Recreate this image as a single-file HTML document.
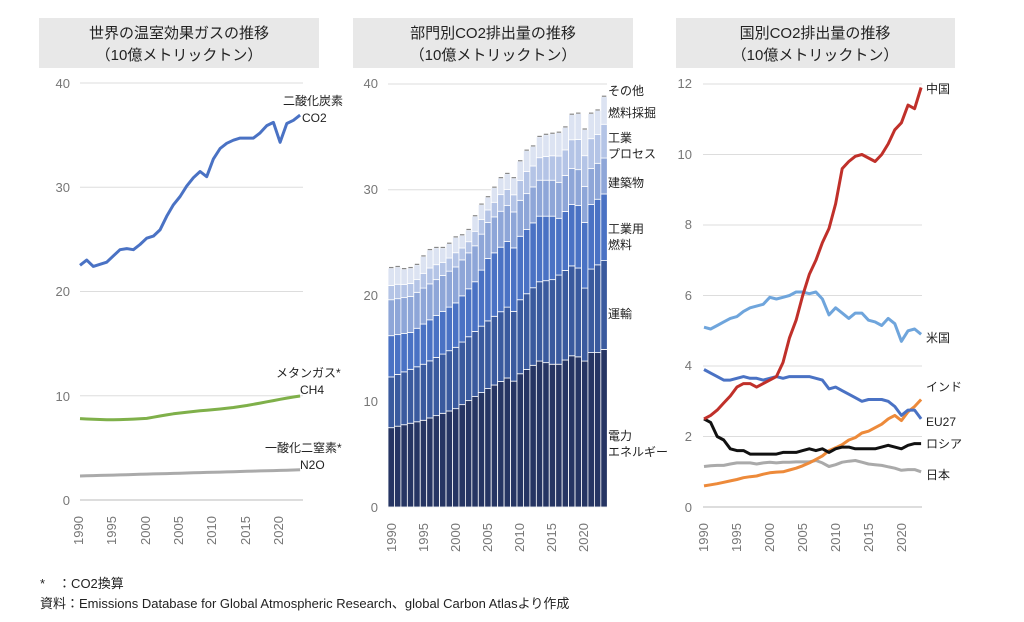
<!DOCTYPE html>
<html><head><meta charset="utf-8"><style>
body{margin:0;background:#fff;}
svg{display:block;font-family:"Liberation Sans","Noto Sans CJK JP",sans-serif;}
.t{font-size:15px;fill:#222;text-anchor:middle}
.ax{font-size:13px;fill:#777}
.lb{font-size:12px;fill:#222}
.ft{font-size:13px;fill:#222}
</style></head><body>
<svg id="s" width="1024" height="622" xmlns="http://www.w3.org/2000/svg">
<rect x="39" y="18" width="280" height="50" fill="#e8e8e8"/>
<rect x="353" y="18" width="280" height="50" fill="#e8e8e8"/>
<rect x="676" y="18" width="279" height="50" fill="#e8e8e8"/>
<text class="t" x="179" y="38">世界の温室効果ガスの推移</text>
<text class="t" x="179" y="60">（10億メトリックトン）</text>
<text class="t" x="493" y="38">部門別CO2排出量の推移</text>
<text class="t" x="493" y="60">（10億メトリックトン）</text>
<text class="t" x="815" y="38">国別CO2排出量の推移</text>
<text class="t" x="815" y="60">（10億メトリックトン）</text>
<g id="g"></g>
<!-- axis labels left -->
<text class="ax" x="70" y="88" text-anchor="end">40</text>
<text class="ax" x="70" y="192" text-anchor="end">30</text>
<text class="ax" x="70" y="296" text-anchor="end">20</text>
<text class="ax" x="70" y="401" text-anchor="end">10</text>
<text class="ax" x="70" y="505" text-anchor="end">0</text>
<text class="ax" x="378" y="88" text-anchor="end">40</text>
<text class="ax" x="378" y="194" text-anchor="end">30</text>
<text class="ax" x="378" y="300" text-anchor="end">20</text>
<text class="ax" x="378" y="406" text-anchor="end">10</text>
<text class="ax" x="378" y="512" text-anchor="end">0</text>
<text class="ax" x="692" y="88" text-anchor="end">12</text>
<text class="ax" x="692" y="159" text-anchor="end">10</text>
<text class="ax" x="692" y="229" text-anchor="end">8</text>
<text class="ax" x="692" y="300" text-anchor="end">6</text>
<text class="ax" x="692" y="370" text-anchor="end">4</text>
<text class="ax" x="692" y="441" text-anchor="end">2</text>
<text class="ax" x="692" y="512" text-anchor="end">0</text>
<g class="ax">
<text transform="translate(83,545) rotate(-90)">1990</text>
<text transform="translate(116,545) rotate(-90)">1995</text>
<text transform="translate(150,545) rotate(-90)">2000</text>
<text transform="translate(183,545) rotate(-90)">2005</text>
<text transform="translate(216,545) rotate(-90)">2010</text>
<text transform="translate(250,545) rotate(-90)">2015</text>
<text transform="translate(283,545) rotate(-90)">2020</text>
<text transform="translate(396,552) rotate(-90)">1990</text>
<text transform="translate(428,552) rotate(-90)">1995</text>
<text transform="translate(460,552) rotate(-90)">2000</text>
<text transform="translate(492,552) rotate(-90)">2005</text>
<text transform="translate(524,552) rotate(-90)">2010</text>
<text transform="translate(556,552) rotate(-90)">2015</text>
<text transform="translate(588,552) rotate(-90)">2020</text>
<text transform="translate(708,552) rotate(-90)">1990</text>
<text transform="translate(741,552) rotate(-90)">1995</text>
<text transform="translate(774,552) rotate(-90)">2000</text>
<text transform="translate(807,552) rotate(-90)">2005</text>
<text transform="translate(840,552) rotate(-90)">2010</text>
<text transform="translate(873,552) rotate(-90)">2015</text>
<text transform="translate(906,552) rotate(-90)">2020</text>
</g>
<g class="lb">
<text x="283" y="105">二酸化炭素</text>
<text x="302" y="122">CO2</text>
<text x="276" y="377">メタンガス*</text>
<text x="300" y="394">CH4</text>
<text x="265" y="452">一酸化二窒素*</text>
<text x="300" y="469">N2O</text>
<text x="608" y="95">その他</text>
<text x="608" y="117">燃料採掘</text>
<text x="608" y="142">工業</text>
<text x="608" y="158">プロセス</text>
<text x="608" y="187">建築物</text>
<text x="608" y="233">工業用</text>
<text x="608" y="249">燃料</text>
<text x="608" y="318">運輸</text>
<text x="608" y="440">電力</text>
<text x="608" y="456">エネルギー</text>
<text x="926" y="93">中国</text>
<text x="926" y="342">米国</text>
<text x="926" y="391">インド</text>
<text x="926" y="426">EU27</text>
<text x="926" y="448">ロシア</text>
<text x="926" y="479">日本</text>
</g>
<text class="ft" x="40" y="588">*　：CO2換算</text>
<text class="ft" x="40" y="608">資料：Emissions Database for Global Atmospheric Research、global Carbon Atlasより作成</text>
</svg>
<script>
var g=document.getElementById('g'),NS='http://www.w3.org/2000/svg';
function el(t,a){var e=document.createElementNS(NS,t);for(var k in a)e.setAttribute(k,a[k]);g.appendChild(e);return e;}
// grids
[[80,303,83,500,4],[388,607,84,507,4],[703,922,84,507,6]].forEach(function(c){for(var i=0;i<=c[4];i++){var y=c[2]+(c[3]-c[2])*i/c[4];el('line',{x1:c[0],x2:c[1],y1:y,y2:y,stroke:i==c[4]?'#bbb':'#ddd','stroke-width':1});}});
function line(xs,ys,dx,y0,sc,vals,col){var p=vals.map(function(v,i){return (xs+i*dx).toFixed(1)+','+(y0-v*sc).toFixed(1)}).join(' ');el('polyline',{points:p,fill:'none',stroke:col,'stroke-width':3,'stroke-linejoin':'round'});}
var co2=[22.5,23,22.4,22.6,22.8,23.4,24,24.1,24,24.5,25.1,25.3,25.9,27.2,28.3,29.1,30.1,30.9,31.5,31,32.7,33.7,34.2,34.5,34.7,34.7,34.7,35.2,35.9,36.2,34.3,36.1,36.4,36.9];
var ch4=[],n2o=[];for(var i=0;i<34;i++){ch4.push(7.8-0.1*Math.sin(i/3)+ (i>10?(i-10)*0.09:0));n2o.push(2.3+i*0.018);}
line(80,0,6.67,500,10.43,co2,'#4a72c4');line(80,0,6.67,500,10.43,ch4,'#7fb04a');line(80,0,6.67,500,10.43,n2o,'#aaa');
// bars
function interp(k,y){var ks=Object.keys(k).map(Number).sort(function(a,b){return a-b});for(var i=0;i<ks.length-1;i++){if(y>=ks[i]&&y<=ks[i+1]){var t=(y-ks[i])/(ks[i+1]-ks[i]);return k[ks[i]]+(k[ks[i+1]]-k[ks[i]])*t;}}return k[ks[ks.length-1]];}
var E={1990:7.5,1995:8.2,2000:9.3,2005:11.2,2008:12.2,2009:11.9,2010:12.6,2013:13.8,2015:13.5,2016:13.5,2018:14.3,2019:14.2,2020:13.8,2021:14.6,2022:14.6,2023:14.9};
var T={1990:12.3,1995:13.5,2000:15.1,2005:17.6,2008:18.9,2009:18.5,2010:19.6,2013:21.3,2015:21.5,2018:22.8,2019:22.6,2020:20.7,2021:22.5,2023:23.3};
var I={1990:16.2,1991:16.3,1993:16.5,1995:17.3,2000:19.3,2003:21.3,2005:23.5,2008:25.1,2009:24.5,2010:25.6,2013:27.5,2015:27.5,2016:27.3,2018:28.6,2019:28.5,2020:26.9,2021:28.6,2023:29.6};
var tot=[22.7,22.8,22.6,22.7,23.0,23.8,24.4,24.6,24.6,25.0,25.6,25.8,26.3,27.6,28.7,29.4,30.3,31.2,31.6,31.2,32.8,33.8,34.2,35.1,35.3,35.4,35.5,36.0,37.2,37.3,35.8,37.3,37.6,38.9];
var cols=['#263563','#3a5a9e','#4a72c4','#8ea6d8','#b4c4e6','#dce3f2'];
var bw=6.45;
for(var i=0;i<34;i++){var y=1990+i;var e=interp(E,y),t=interp(T,y),ind=interp(I,y),b=ind+3.4,tt=tot[i]-0.1;var f=(i/33);var p=b+(tt-b)*(0.45+0.1*f);
var c=[0,e,t,ind,b,p,tt];var x=388+i*bw;
for(var j=0;j<6;j++){var y1=507-c[j+1]*10.575,y2=507-c[j]*10.575;el('rect',{x:x,y:y1,width:bw,height:y2-y1,fill:cols[j],stroke:'#fff','stroke-width':0.8});}
el('rect',{x:x+1,y:507-tot[i]*10.575,width:bw-2,height:1.2,fill:'#888'});}
var cn=[2.5,2.6,2.75,2.95,3.15,3.4,3.5,3.5,3.4,3.5,3.6,3.7,4.1,4.8,5.3,6.0,6.6,7.0,7.5,7.9,8.6,9.6,9.8,9.95,10.0,9.9,9.8,10.0,10.3,10.7,10.9,11.4,11.3,11.9];
var us=[5.1,5.05,5.15,5.25,5.35,5.4,5.55,5.65,5.7,5.75,5.95,5.9,5.95,6.0,6.1,6.1,6.05,6.1,5.9,5.45,5.65,5.5,5.35,5.5,5.5,5.3,5.25,5.15,5.35,5.2,4.7,5.0,5.05,4.9];
var eu=[3.9,3.8,3.7,3.6,3.6,3.65,3.7,3.65,3.65,3.6,3.65,3.7,3.65,3.7,3.7,3.7,3.7,3.65,3.6,3.35,3.4,3.3,3.2,3.1,3.0,3.05,3.05,3.05,3.0,2.85,2.6,2.75,2.75,2.5];
var inn=[0.6,0.63,0.66,0.7,0.74,0.78,0.83,0.86,0.88,0.93,0.97,0.99,1.0,1.05,1.1,1.17,1.25,1.35,1.45,1.6,1.68,1.77,1.9,1.97,2.1,2.15,2.25,2.35,2.5,2.6,2.45,2.7,2.85,3.05];
var ru=[2.5,2.4,2.0,1.9,1.65,1.6,1.6,1.5,1.5,1.5,1.5,1.5,1.55,1.55,1.55,1.6,1.65,1.6,1.65,1.55,1.65,1.7,1.7,1.65,1.65,1.65,1.65,1.7,1.75,1.7,1.65,1.75,1.8,1.8];
var jp=[1.15,1.17,1.18,1.18,1.22,1.25,1.25,1.25,1.22,1.25,1.27,1.25,1.27,1.27,1.28,1.28,1.28,1.32,1.25,1.15,1.2,1.27,1.3,1.32,1.27,1.22,1.2,1.18,1.14,1.1,1.04,1.06,1.06,1.0];
var L=function(v,c){line(704,0,6.58,507,35.25,v,c);};
L(jp,'#aaa');L(inn,'#ed8a3a');L(ru,'#111');L(eu,'#4a72c4');L(us,'#6fa5dc');L(cn,'#c0302a');
</script>
</body></html>
